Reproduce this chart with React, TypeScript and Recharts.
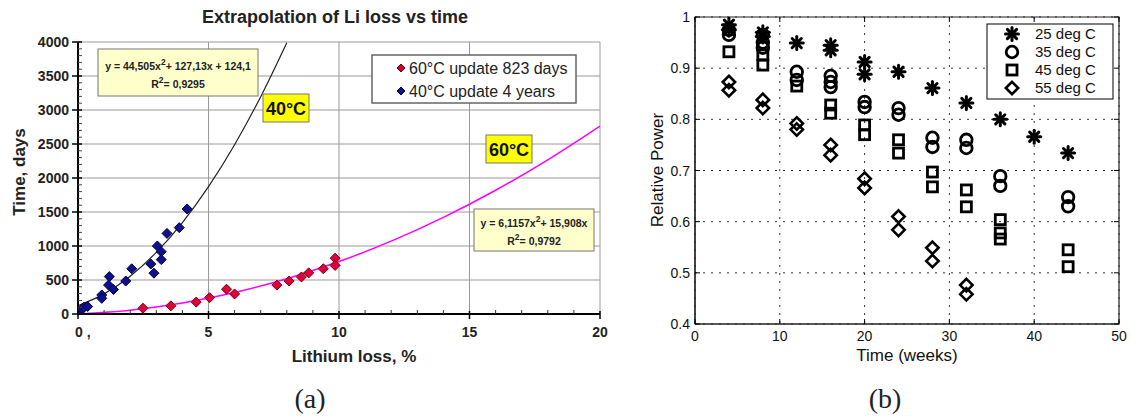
import React from 'react';
import {
  ComposedChart,
  ScatterChart,
  Scatter,
  Line,
  XAxis,
  YAxis,
  ReferenceLine,
  ReferenceArea,
  CartesianGrid,
} from 'recharts';

// ---- (a) Extrapolation of Li loss vs time ----
const lossAt40 = [0.04, 0.17, 0.23, 0.37, 0.91, 0.91, 1.17, 1.2, 1.36, 1.83, 2.06, 2.79, 2.91, 3.04, 3.19, 3.19, 3.41, 3.88, 4.18];
const daysAt40 = [0, 75, 100, 110, 280, 230, 425, 550, 360, 485, 665, 735, 600, 1000, 915, 800, 1185, 1270, 1545];
const lossAt60 = [2.49, 3.56, 4.53, 5.04, 5.69, 6.0, 7.62, 8.09, 8.56, 8.84, 9.4, 9.85, 9.85];
const daysAt60 = [85, 120, 175, 240, 365, 295, 425, 485, 545, 605, 665, 820, 715];

// trend lines
const trendLoss40 = [0, 1, 2, 3, 4, 5, 6, 7, 8];
const trendDays40 = [124, 296, 556, 906, 1345, 1873, 2490, 3196, 3990];
const trendLoss60 = [0, 2, 4, 6, 8, 10, 12, 14, 16, 18, 20];
const trendDays60 = [0, 56, 162, 316, 519, 771, 1071, 1421, 1820, 2268, 2764];

const lossTicks = Array.from({ length: 21 }, (_, i) => i);
const dayTicks = Array.from({ length: 41 }, (_, i) => i * 100);
const lossGrid = [5, 10, 15, 20];
const dayGrid = [500, 1000, 1500, 2000, 2500, 3000, 3500, 4000];

// ---- (b) Relative power vs time ----
const weeks25 = [4, 4, 8, 8, 12, 16, 16, 20, 20, 24, 28, 32, 36, 40, 44];
const power25 = [0.985, 0.975, 0.97, 0.962, 0.949, 0.945, 0.935, 0.912, 0.888, 0.893, 0.861, 0.832, 0.8, 0.766, 0.734];
const weeks35 = [4, 4, 8, 8, 8, 12, 12, 16, 16, 16, 20, 20, 24, 24, 28, 28, 32, 32, 36, 36, 44, 44];
const power35 = [0.975, 0.965, 0.965, 0.95, 0.94, 0.893, 0.877, 0.885, 0.873, 0.863, 0.834, 0.824, 0.822, 0.809, 0.764, 0.746, 0.76, 0.744, 0.689, 0.67, 0.648, 0.63];
const weeks45 = [4, 8, 8, 12, 16, 16, 20, 20, 24, 24, 28, 28, 32, 32, 36, 36, 36, 44, 44];
const power45 = [0.932, 0.926, 0.906, 0.865, 0.828, 0.812, 0.789, 0.77, 0.76, 0.734, 0.697, 0.668, 0.662, 0.629, 0.604, 0.578, 0.566, 0.545, 0.512];
const weeks55 = [4, 4, 8, 8, 12, 12, 16, 16, 20, 20, 24, 24, 28, 28, 32, 32];
const power55 = [0.873, 0.857, 0.838, 0.822, 0.792, 0.78, 0.75, 0.73, 0.684, 0.666, 0.61, 0.584, 0.549, 0.523, 0.476, 0.458];

const weekTicks = [0, 10, 20, 30, 40, 50];
const powerTicks = [0.4, 0.5, 0.6, 0.7, 0.8, 0.9, 1];

const zip = (xs: number[], ys: number[]) => xs.map((x, i) => ({ x, y: ys[i] }));

const SANS = '"Liberation Sans", Arial, sans-serif';

// chart (b) plot box in its own svg
const B_TOP = 17;
const B_RIGHT = 479;

const DiamondA = ({ cx, cy, fill, stroke, r = 5 }: any) => (
  <path
    d={`M${cx},${cy - r}L${cx + r},${cy}L${cx},${cy + r}L${cx - r},${cy}Z`}
    fill={fill}
    stroke={stroke}
    strokeWidth={1}
  />
);

const Star = ({ cx, cy }: any) => (
  <g stroke="#000" strokeWidth={3} strokeLinecap="round">
    <line x1={cx - 6.5} x2={cx + 6.5} y1={cy} y2={cy} />
    <line x1={cx} x2={cx} y1={cy - 6.5} y2={cy + 6.5} />
    <line x1={cx - 4.6} x2={cx + 4.6} y1={cy - 4.6} y2={cy + 4.6} />
    <line x1={cx - 4.6} x2={cx + 4.6} y1={cy + 4.6} y2={cy - 4.6} />
    <circle cx={cx} cy={cy} r={3.5} fill="#000" stroke="none" />
  </g>
);
const Ring = ({ cx, cy }: any) => <circle cx={cx} cy={cy} r={5.8} fill="none" stroke="#000" strokeWidth={2.8} />;
const Box = ({ cx, cy }: any) => (
  <rect x={cx - 5} y={cy - 5} width={10} height={10} fill="none" stroke="#000" strokeWidth={2.8} />
);
const Rhomb = ({ cx, cy }: any) => (
  <path d={`M${cx},${cy - 6.2}L${cx + 6.2},${cy}L${cx},${cy + 6.2}L${cx - 6.2},${cy}Z`} fill="none" stroke="#000" strokeWidth={2.6} strokeLinejoin="miter" />
);

const XTickA = ({ x, y, payload }: any) => {
  const v = payload.value;
  const major = v % 5 === 0;
  return (
    <g>
      {major ? (
        <line x1={x} x2={x} y1={y - 3} y2={y + 5} stroke="#000" strokeWidth={1.5} />
      ) : (
        <line x1={x} x2={x} y1={y - 4} y2={y} stroke="#333" />
      )}
      {major && (
        <text x={v === 0 ? x - 3 : x} y={y + 23} textAnchor={v === 0 ? 'start' : 'middle'} fontFamily={SANS} fontWeight="bold" fontSize={14} fill="#222">
          {v === 0 ? '0 ,' : v}
        </text>
      )}
    </g>
  );
};

const YTickA = ({ x, y, payload }: any) => {
  const v = payload.value;
  const major = v % 500 === 0;
  return (
    <g>
      {major ? (
        <line x1={x - 6} x2={x + 4} y1={y} y2={y} stroke="#000" strokeWidth={1.5} />
      ) : (
        <line x1={x} x2={x + 4} y1={y} y2={y} stroke="#444" />
      )}
      {major && (
        <text x={x - 9} y={y + 5} textAnchor="end" fontFamily={SANS} fontWeight="bold" fontSize={14} fill="#222">
          {v}
        </text>
      )}
    </g>
  );
};

const XTickB = ({ x, y, payload }: any) => (
  <g>
    <line x1={x} x2={x} y1={y} y2={y - 5} stroke="#000" />
    <line x1={x} x2={x} y1={B_TOP} y2={B_TOP + 5} stroke="#000" />
    <text x={x} y={y + 17} textAnchor="middle" fontFamily={SANS} fontSize={14} fill="#111">
      {payload.value}
    </text>
  </g>
);

const YTickB = ({ x, y, payload }: any) => (
  <g>
    <line x1={x} x2={x + 5} y1={y} y2={y} stroke="#000" />
    <line x1={B_RIGHT} x2={B_RIGHT - 5} y1={y} y2={y} stroke="#000" />
    <text x={x - 5} y={y + 5} textAnchor="end" fontFamily={SANS} fontSize={14} fill="#111">
      {payload.value}
    </text>
  </g>
);

const Sup = ({ children }: any) => (
  <tspan dy={-5} fontSize={8.5}>
    {children}
  </tspan>
);

const EQ_SIZE = 10.5;

const Overlay = () => (
  <svg width={1131} height={418} style={{ position: 'absolute', left: 0, top: 0, pointerEvents: 'none' }}>
    {/* chart (a) texts */}
    <text x={335} y={23} textAnchor="middle" fontFamily={SANS} fontWeight="bold" fontSize={18} fill="#222">
      Extrapolation of Li loss vs time
    </text>
    <text x={19} y={172} transform="rotate(-90 19 172)" textAnchor="middle" dominantBaseline="central" fontFamily={SANS} fontWeight="bold" fontSize={17} fill="#222">
      Time, days
    </text>
    <text x={354} y={362} textAnchor="middle" fontFamily={SANS} fontWeight="bold" fontSize={17} fill="#222">
      Lithium loss, %
    </text>

    <rect x={98} y={49} width={160} height={47} fill="#ffffcc" stroke="#777" />
    <text x={178} y={70} textAnchor="middle" fontFamily={SANS} fontWeight="bold" fontSize={EQ_SIZE} fill="#222">
      y = 44,505x<Sup>2</Sup>
      <tspan dy={5}>+ 127,13x + 124,1</tspan>
    </text>
    <text x={178} y={88} textAnchor="middle" fontFamily={SANS} fontWeight="bold" fontSize={EQ_SIZE} fill="#222">
      R<Sup>2</Sup>
      <tspan dy={5}>= 0,9295</tspan>
    </text>

    <rect x={263} y={94} width={46} height={28} fill="#ffff00" stroke="#777" />
    <text x={286} y={115} textAnchor="middle" fontFamily={SANS} fontWeight="bold" fontSize={18} fill="#111">
      40°C
    </text>
    <rect x={486} y={135} width={46} height={28} fill="#ffff00" stroke="#777" />
    <text x={509} y={156} textAnchor="middle" fontFamily={SANS} fontWeight="bold" fontSize={18} fill="#111">
      60°C
    </text>

    <rect x={474} y={209} width={120} height={42} fill="#ffffcc" stroke="#777" />
    <text x={534} y={227} textAnchor="middle" fontFamily={SANS} fontWeight="bold" fontSize={EQ_SIZE} fill="#222">
      y = 6,1157x<Sup>2</Sup>
      <tspan dy={5}>+ 15,908x</tspan>
    </text>
    <text x={534} y={245} textAnchor="middle" fontFamily={SANS} fontWeight="bold" fontSize={EQ_SIZE} fill="#222">
      R<Sup>2</Sup>
      <tspan dy={5}>= 0,9792</tspan>
    </text>

    <rect x={372} y={55} width={204} height={48} fill="#fff" stroke="#666" strokeWidth={1.5} />
    <DiamondA cx={401} cy={68} r={4} fill="#d0002a" stroke="#700010" />
    <text x={409} y={74} fontFamily={SANS} fontSize={16} fill="#222">
      60°C update 823 days
    </text>
    <DiamondA cx={401} cy={91} r={4} fill="#10108a" stroke="#000050" />
    <text x={409} y={97} fontFamily={SANS} fontSize={16} fill="#222">
      40°C update 4 years
    </text>

    <text x={310} y={408} textAnchor="middle" fontFamily='"Liberation Serif", serif' fontSize={28} fill="#222">
      (a)
    </text>

    {/* chart (b) texts */}
    <text x={657} y={170} transform="rotate(-90 657 170)" textAnchor="middle" dominantBaseline="central" fontFamily={SANS} fontSize={17} fill="#111">
      Relative Power
    </text>
    <text x={907} y={361} textAnchor="middle" fontFamily={SANS} fontSize={17} fill="#111">
      Time (weeks)
    </text>

    <rect x={987} y={24} width={126} height={75} fill="#fff" stroke="#000" />
    <Star cx={1012} cy={34} />
    <Ring cx={1012} cy={52} />
    <Box cx={1012} cy={70} />
    <Rhomb cx={1012} cy={88} />
    {['25 deg C', '35 deg C', '45 deg C', '55 deg C'].map((t, i) => (
      <text key={t} x={1035} y={39 + i * 18} fontFamily={SANS} fontSize={15} fill="#111">
        {t}
      </text>
    ))}

    <text x={885} y={408} textAnchor="middle" fontFamily='"Liberation Serif", serif' fontSize={28} fill="#222">
      (b)
    </text>
  </svg>
);

const App = () => {
  const pts40 = zip(lossAt40, daysAt40);
  const pts60 = zip(lossAt60, daysAt60);
  const fit40 = zip(trendLoss40, trendDays40);
  const fit60 = zip(trendLoss60, trendDays60);

  return (
    <div style={{ position: 'absolute', left: 0, top: 0, width: 1131, height: 418, background: '#fff', overflow: 'hidden' }}>
      <div style={{ position: 'absolute', left: 0, top: 0 }}>
        <ComposedChart width={620} height={418} margin={{ top: 42, right: 20, bottom: 74, left: 0 }}>
          {lossGrid.map((v) => (
            <ReferenceLine key={`gx${v}`} x={v} stroke="#9a9a9a" />
          ))}
          {dayGrid.map((v) => (
            <ReferenceLine key={`gy${v}`} y={v} stroke="#9a9a9a" />
          ))}
          <XAxis
            type="number"
            dataKey="x"
            domain={[0, 20]}
            ticks={lossTicks}
            interval={0}
            tickSize={0}
            tickMargin={0}
            tickLine={false}
            tick={<XTickA />}
            axisLine={{ stroke: '#000', strokeWidth: 2 }}
            height={30}
            allowDataOverflow
          />
          <YAxis
            type="number"
            dataKey="y"
            domain={[0, 4000]}
            ticks={dayTicks}
            interval={0}
            tickSize={0}
            tickMargin={0}
            tickLine={false}
            tick={<YTickA />}
            axisLine={{ stroke: '#000', strokeWidth: 2 }}
            width={78}
            allowDataOverflow
          />
          <Line data={fit40} dataKey="y" type="monotone" stroke="#222" strokeWidth={1.2} dot={false} isAnimationActive={false} />
          <Line data={fit60} dataKey="y" type="monotone" stroke="#ff00ff" strokeWidth={1.5} dot={false} isAnimationActive={false} />
          <Scatter data={pts40} shape={(p: any) => <DiamondA cx={p.cx} cy={p.cy} fill="#10108a" stroke="#000050" />} isAnimationActive={false} />
          <Scatter data={pts60} shape={(p: any) => <DiamondA cx={p.cx} cy={p.cy} fill="#e0003a" stroke="#700010" />} isAnimationActive={false} />
        </ComposedChart>
      </div>

      <div style={{ position: 'absolute', left: 640, top: 0 }}>
        <ScatterChart width={491} height={418} margin={{ top: 17, right: 12, bottom: 69, left: 0 }}>
          <CartesianGrid strokeDasharray="2 6" stroke="#333" />
          <XAxis
            type="number"
            dataKey="x"
            domain={[0, 50]}
            ticks={weekTicks}
            interval={0}
            tickSize={0}
            tickMargin={0}
            tickLine={false}
            tick={<XTickB />}
            axisLine={{ stroke: '#222', strokeWidth: 1.2 }}
            height={25}
          />
          <YAxis
            type="number"
            dataKey="y"
            domain={[0.4, 1]}
            ticks={powerTicks}
            interval={0}
            tickSize={0}
            tickMargin={0}
            tickLine={false}
            tick={<YTickB />}
            axisLine={{ stroke: '#222', strokeWidth: 1.2 }}
            width={55}
          />
          <ReferenceArea x1={0} x2={50} y1={0.4} y2={1} fill="none" stroke="#222" strokeWidth={1.2} />
          <Scatter data={zip(weeks25, power25)} shape={(p: any) => <Star cx={p.cx} cy={p.cy} />} isAnimationActive={false} />
          <Scatter data={zip(weeks35, power35)} shape={(p: any) => <Ring cx={p.cx} cy={p.cy} />} isAnimationActive={false} />
          <Scatter data={zip(weeks45, power45)} shape={(p: any) => <Box cx={p.cx} cy={p.cy} />} isAnimationActive={false} />
          <Scatter data={zip(weeks55, power55)} shape={(p: any) => <Rhomb cx={p.cx} cy={p.cy} />} isAnimationActive={false} />
        </ScatterChart>
      </div>

      <Overlay />
    </div>
  );
};

export default App;
